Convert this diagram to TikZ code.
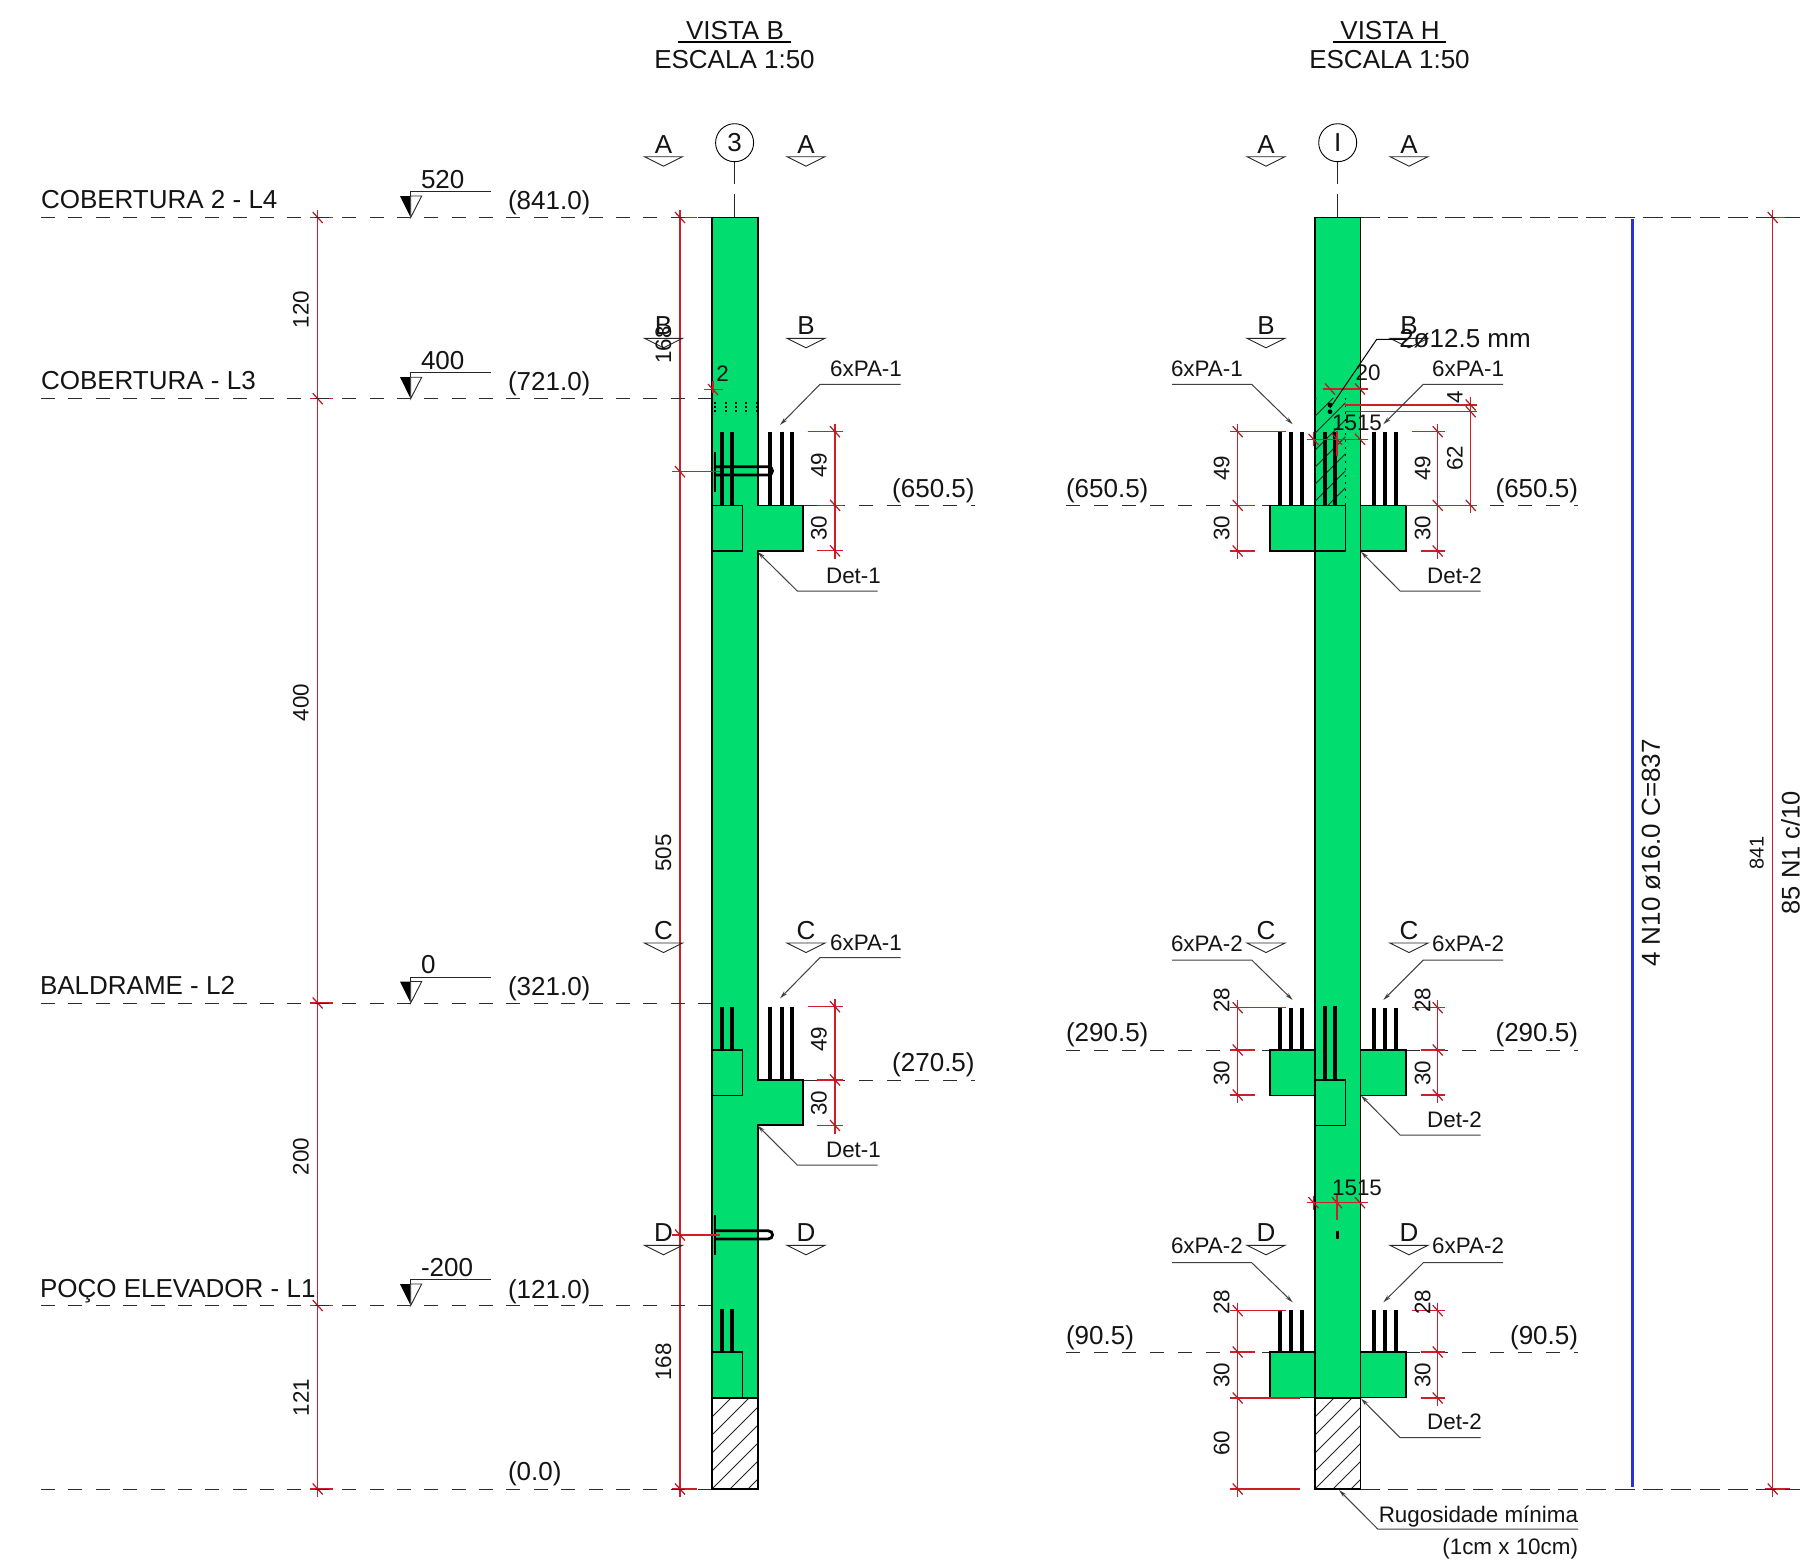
\documentclass[tikz,border=0pt]{standalone}
\usepackage{fontspec}
\setmainfont{Liberation Sans}
\usetikzlibrary{arrows.meta}
\definecolor{colgreen}{RGB}{2,221,112}
\definecolor{dimred}{RGB}{208,30,40}
\definecolor{bluebar}{RGB}{40,50,215}
\definecolor{lvlgray}{RGB}{45,45,45}
\newcounter{tn}
\tikzset{
  every node/.style={inner sep=0pt,outer sep=0pt,text=black!92},
  tbig/.style={font=\fontsize{26}{26}\selectfont},
  tsmall/.style={font=\fontsize{22.4}{22.4}\selectfont},
  reddim/.style={draw=dimred,line width=1.1pt},
  redtick/.style={draw=dimred!85!black,line width=1.2pt},
  lvldash/.style={draw=lvlgray,line width=1pt,dash pattern=on 14pt off 14pt},
  lvldashl/.style={draw=lvlgray,line width=1pt,dash pattern=on 14pt off 13.375pt},
  lvldashb/.style={draw=lvlgray,line width=1pt,dash pattern=on 20pt off 8.3pt},
  conc/.style={fill=colgreen,draw=black,line width=1.6pt,line join=miter},
  rebar/.style={draw=black,line width=4pt},
  hook/.style={draw=black,line width=2.8pt},
  hatchln/.style={draw=black!85,line width=.9pt},
  leaderln/.style={draw=black!75,line width=1pt,-{Stealth[length=8pt,width=4pt]}},
  sectln/.style={draw=black!85,line width=.9pt,line join=miter},
}
\newcommand\labb[4][]{\stepcounter{tn}\node[tbig,#1] (t\arabic{tn}) at (#2,#3) {#4};}
\newcommand\labs[4][]{\stepcounter{tn}\node[tsmall,#1] (t\arabic{tn}) at (#2,#3) {#4};}
\newcommand\rvdim[3]{\draw[reddim] (#1,#2-8) -- (#1,#3+8);}
\newcommand\rtick[2]{\draw[redtick] (#1-5,#2-5.5) -- (#1+5,#2+5.5);}
\newcommand\rext[3]{\draw[reddim] (#1,#3) -- (#2,#3);}
\newcommand\sectm[3]{\stepcounter{tn}\node[tbig] (t\arabic{tn}) at (#2,#3-12.5) {#1};
  \draw[sectln] (#2-19,#3) -- (#2+19,#3) -- (#2,#3+9.5) -- cycle;}
\newcommand\elevm[2]{\fill[black] (400,#1-21.5) -- (410.7,#1-21.5) -- (410.7,#1) -- cycle;
  \draw[sectln,fill=white] (410.7,#1-21.5) -- (421.7,#1-21.5) -- (410.7,#1) -- cycle;
  \draw[sectln] (410.7,#1-21.5) -- (410.7,#1-26) -- (490.7,#1-26);
  \labb[anchor=west]{421}{#1-38}{#2}}
\newcommand\leaderm[5]{\stepcounter{tn}
  \coordinate (la\arabic{tn}) at (#1,#2);
  \coordinate (lb\arabic{tn}) at (#3,#4);
  \coordinate (lc\arabic{tn}) at (#5,#4);
  \draw[leaderln] (lc\arabic{tn}) -- (lb\arabic{tn}) -- (la\arabic{tn});}
\newcommand\hatchm[6]{\begin{scope}
  \clip (#1,#2) rectangle (#3,#4);
  \foreach \t in {#5}{\draw[hatchln] (#1,#4-\t) -- ++(200,-200);}
  \end{scope}}
\begin{document}
\begin{tikzpicture}[x=1pt,y=-1pt]
\useasboundingbox (0,0) rectangle (1800,1564);
\fill[white] (0,0) rectangle (1800,1564);

% --- red dimension lines outside the columns
\rvdim{317.7}{217.5}{1489}
\foreach \y in {217.5,398.7,1003,1305.5,1489}{\rext{310}{333}{\y}\rtick{317.7}{\y}}
\rvdim{680}{217.5}{1489}
\foreach \y in {217.5,1489}{\rext{672}{697}{\y}\rtick{680}{\y}}
\rvdim{1772.7}{217.5}{1489}
\foreach \y in {217.5,1489}{\rext{1765}{1790}{\y}\rtick{1772.7}{\y}}

% --- level lines
\foreach \y in {217.5,398.7,1003,1305.5,1489}{\draw[lvldashl] (712,\y) -- (41,\y);}
\draw[lvldashb] (1360,217.5) -- (1800,217.5);
\draw[lvldashb] (1360,1489) -- (1800,1489);
\draw[lvldash] (803,505.3) -- (975,505.3);
\draw[lvldash] (803,1080) -- (975,1080);
\foreach \y in {505.3,1050,1352}{
  \draw[lvldash] (1066,\y) -- (1270,\y);
  \draw[lvldash] (1406,\y) -- (1578,\y);}

% --- grid bubbles
\foreach \x/\t/\nm in {734.6/3/gb,1337.7/I/gh}{
  \node[tbig,draw=black,line width=.9pt,circle,minimum size=38pt] (\nm) at (\x,142.7) {\t};
  \coordinate (\nm a) at (\x,184);
  \coordinate (\nm b) at (\x,194);
  \coordinate (\nm c) at (\x,217.5);
  \draw[black!85,line width=.9pt] (\nm) -- (\nm a) (\nm b) -- (\nm c);}

% --- VISTA B column
\fill[white] (712,1398) rectangle (758,1489);
\hatchm{712}{1398}{758}{1489}{-54,-36,...,108}{}
\draw[black,line width=1.3pt] (712,1398) rectangle (758,1489);
\draw[conc] (712,217.5) -- (758,217.5) -- (758,505.3) -- (802.7,505.3) -- (802.7,551) -- (758,551)
  -- (758,1080) -- (802.7,1080) -- (802.7,1125) -- (758,1125) -- (758,1398) -- (712,1398) -- cycle;
\foreach \y in {505.3,1050,1352}{\draw[black,line width=1.4pt] (712,\y) rectangle (742.4,\y+45.5);}

% --- VISTA H column
\fill[white] (1315,1398) rectangle (1360.3,1489);
\hatchm{1315}{1398}{1360.3}{1489}{-54,-36,...,108}{}
\draw[black,line width=1.3pt] (1315,1398) rectangle (1360.3,1489);
\draw[conc] (1315,217.5) rectangle (1360.3,1398);
\foreach \y in {505.3,1050,1352}{
  \draw[conc] (1269.7,\y) rectangle (1315,\y+45.6);
  \draw[conc] (1360.3,\y) rectangle (1406,\y+45.6);}
\draw[black,line width=1.4pt] (1315,505.3) rectangle (1345.3,551);
\draw[black,line width=1.4pt] (1315,1080) rectangle (1345.3,1125.3);
\hatchm{1315}{398}{1345.3}{505.3}{-30,-13,...,115}{}
\draw[black,line width=1pt,dash pattern=on 2pt off 5pt] (1345.3,398) -- (1345.3,505.3);

% --- dotted row in B
\foreach \x in {715,726,736,746,756.7}{\draw[black,line width=1.1pt,dash pattern=on 2pt off 2pt] (\x,402) -- (\x,414);}

% --- reinforcement bars B
\foreach \x in {770.3,781.7,792.3}{
  \draw[rebar] (\x,431.7) -- (\x,505.3);
  \draw[rebar] (\x,1006.7) -- (\x,1080);}
\foreach \x in {722,732}{
  \draw[rebar] (\x,431.7) -- (\x,505.3);
  \draw[rebar] (\x,1007) -- (\x,1050);
  \draw[rebar] (\x,1309) -- (\x,1352);}
% hooks
\draw[hook] (715,466.7) -- (768,466.7) .. controls (774,466.7) and (774,475) .. (768,475) -- (715,475);
\draw[hook] (715,451.7) -- (715,491.7);
\draw[hook] (715,1230.7) -- (768,1230.7) .. controls (774,1230.7) and (774,1239) .. (768,1239) -- (715,1239);
\draw[hook] (715,1215) -- (715,1255);

% --- reinforcement bars H
\foreach \x in {1280,1291,1302,1373.7,1384.7,1395.7}{
  \draw[rebar] (\x,431.7) -- (\x,505.3);
  \draw[rebar] (\x,1007.5) -- (\x,1050);
  \draw[rebar] (\x,1310) -- (\x,1352);}
\foreach \x in {1325.3,1335.3}{
  \draw[rebar] (\x,431.7) -- (\x,505.3);
  \draw[rebar] (\x,1006) -- (\x,1080);}
\draw[black,line width=3pt] (1337.7,1230.7) -- (1337.7,1239);
\fill[black] (1330,405) circle (2.4pt) (1330,411.7) circle (2.4pt);

% --- blue bar
\draw[bluebar,line width=2.6pt] (1632.7,219.3) -- (1632.7,1486.7);

% --- red dims on VISTA B
\rext{672}{720}{471.7}\rtick{680}{471.7}
\rext{672}{720}{1235}\rtick{680}{1235}
\rext{704}{723}{389.5}\draw[reddim] (713,381) -- (713,393);\rtick{713}{389.5}
\foreach \y/\z in {431.7/505.3,1006.7/1080}{
  \rvdim{835}{\y}{\z+45.5}
  \rext{808}{843}{\y}\rext{817}{843}{\z}\rext{817}{843}{\z+45.5}
  \rtick{835}{\y}\rtick{835}{\z}\rtick{835}{\z+45.5}}

% --- red dims on VISTA H
\foreach \x/\a/\b in {1237.7/1230/1255,1437.7/1420.7/1445}{
  \rvdim{\x}{431.7}{551}
  \rvdim{\x}{1007.7}{1095}
  \rvdim{\x}{1310.7}{1398}
  \foreach \y in {505.3,551,1050,1095,1352,1398}{\rext{\a}{\b}{\y}\rtick{\x}{\y}}
  \foreach \y in {431.7,1007.7,1310.7}{\rtick{\x}{\y}}}
\foreach \y in {431.7,1007.7,1310.7}{\rext{1230}{1286}{\y}\rext{1411.7}{1445}{\y}}
\rext{1406}{1445}{505.3}
\rext{1230}{1300}{1398}
\rvdim{1237.7}{1398}{1489}
\rext{1230}{1300}{1489}\rtick{1237.7}{1489}
% 20
\rext{1323}{1368}{389}\rtick{1330}{389}\rtick{1360}{389}
% 15 15
\foreach \y in {439.3,1202.7}{
  \rext{1306.7}{1368}{\y}\rtick{1313.5}{\y}\rtick{1337}{\y}\rtick{1360}{\y}
  \draw[reddim] (1313.5,\y-7) -- (1313.5,\y+7);
  \draw[reddim,line width=1.5pt] (1337,\y-8) -- (1337,\y+17);}
% 4 and 62
\rvdim{1470.7}{405}{505.3}
\rext{1345}{1477}{405}\rext{1345}{1477}{411.7}\rext{1406}{1477}{505.3}
\rtick{1470.7}{405}\rtick{1470.7}{411.7}\rtick{1470.7}{505.3}

% --- section markers
\foreach \l/\y in {A/156.7,B/338.3,C/943,D/1245.3}{
  \sectm{\l}{663.5}{\y}\sectm{\l}{806}{\y}\sectm{\l}{1266}{\y}\sectm{\l}{1409}{\y}}

% --- elevation marks
\elevm{217.5}{520}
\elevm{398.7}{400}
\elevm{1003}{0}
\elevm{1305.5}{-200}

% --- level names and values
\labb[anchor=west]{41}{199.5}{COBERTURA 2 - L4}
\labb[anchor=west]{41}{381}{COBERTURA - L3}
\labb[anchor=west]{40}{985}{BALDRAME - L2}
\labb[anchor=west]{40}{1291}{POÇO ELEVADOR - L1}
\labb[anchor=west]{508}{202.5}{(841.0)}
\labb[anchor=west]{508}{384}{(721.0)}
\labb[anchor=west]{508}{988.5}{(321.0)}
\labb[anchor=west]{508}{1292}{(121.0)}
\labb[anchor=west]{508}{1473.5}{(0.0)}
\labb[anchor=east]{974.6}{490.5}{(650.5)}
\labb[anchor=east]{974.6}{1064.5}{(270.5)}
\labb[anchor=west]{1066}{490.5}{(650.5)}
\labb[anchor=east]{1578}{490.5}{(650.5)}
\labb[anchor=west]{1066}{1034.5}{(290.5)}
\labb[anchor=east]{1578}{1034.5}{(290.5)}
\labb[anchor=west]{1066}{1337.5}{(90.5)}
\labb[anchor=east]{1578}{1337.5}{(90.5)}

% --- titles
\labb{735}{31}{VISTA B}
\labb{734.5}{59.5}{ESCALA 1:50}
\labb{1390}{31}{VISTA H}
\labb{1389.5}{59.5}{ESCALA 1:50}
\draw[black,line width=2pt] (678,42.3) -- (790.7,42.3);
\draw[black,line width=2pt] (1333,42.3) -- (1445.7,42.3);

% --- rotated small dims left and middle
\foreach \y/\t in {309.5/120,702.5/400,1156.5/200,1397.5/121}{\labs[rotate=90]{301}{\y}{\t}}
\foreach \y/\t in {345/168,853/505,1362/168}{\labs[rotate=90]{663.5}{\y}{\t}}
\labs{722.5}{373.5}{2}
\foreach \y/\t in {465/49,528/30,1039/49,1103/30}{\labs[rotate=90]{819}{\y}{\t}}
\foreach \x in {1221.7,1422.7}{
  \labs[rotate=90]{\x}{468}{49}
  \labs[rotate=90]{\x}{528}{30}
  \labs[rotate=90]{\x}{1000}{28}
  \labs[rotate=90]{\x}{1073}{30}
  \labs[rotate=90]{\x}{1302}{28}
  \labs[rotate=90]{\x}{1375}{30}}
\labs[rotate=90]{1221.7}{1443}{60}
\labs[rotate=90]{1455}{397}{4}
\labs[rotate=90]{1455}{458}{62}
\labs{1368}{373}{20}
\labs{1357}{423}{1515}
\labs{1357}{1187.7}{1515}

% --- leaders
\leaderm{780}{425}{820}{384.3}{900.7}
\labs{866}{369}{6xPA-1}
\leaderm{780}{998.3}{820}{957.6}{900.7}
\labs{866}{943}{6xPA-1}
\leaderm{757.5}{551.7}{797.3}{591}{877.7}
\labs{853.5}{576}{Det-1}
\leaderm{757.5}{1125.5}{797.3}{1165}{877.7}
\labs{853.5}{1150}{Det-1}
\leaderm{1361}{551.7}{1400}{591}{1480.7}
\labs{1454.5}{576}{Det-2}
\leaderm{1361}{1095.5}{1400}{1135}{1480.7}
\labs{1454.5}{1119.5}{Det-2}
\leaderm{1361}{1398.5}{1400}{1437.7}{1480.7}
\labs{1454.5}{1421.7}{Det-2}
\leaderm{1339}{1490}{1377.7}{1529}{1578}
\labs[anchor=east]{1578}{1517}{Rugosidade mínima}
\labs[anchor=east]{1578}{1549}{(1cm x 10cm)}
% H view PA leaders
\foreach \ty/\ey/\ly/\nm in {424.3/384.3/369/1,1000/960/944/2,1302.3/1262.7/1246/2}{
  \leaderm{1292.7}{\ty}{1251.7}{\ey}{1172}
  \labs[anchor=west]{1171}{\ly}{6xPA-\nm}
  \leaderm{1383.3}{\ty}{1423.3}{\ey}{1503}
  \labs[anchor=east]{1504}{\ly}{6xPA-\nm}}
% 2ø12.5
\coordinate (phiA) at (1330,408);
\coordinate (phiB) at (1376.7,339.3);
\coordinate (phiC) at (1406,339.3);
\draw[black,line width=1pt] (phiA) -- (phiB) -- (phiC);
\labb{1465}{339}{2ø12.5 mm}

% --- long rotated labels
\labb[rotate=90]{1651}{853}{4 N10 ø16.0 C=837}
\stepcounter{tn}\node[rotate=90,font=\fontsize{20}{20}\selectfont] (t\arabic{tn}) at (1756.7,852.7) {841};
\stepcounter{tn}\node[rotate=90,anchor=base,font=\fontsize{25.5}{25.5}\selectfont] (t\arabic{tn}) at (1799.5,852.7) {85 N1 c/10};
\end{tikzpicture}
\end{document}
